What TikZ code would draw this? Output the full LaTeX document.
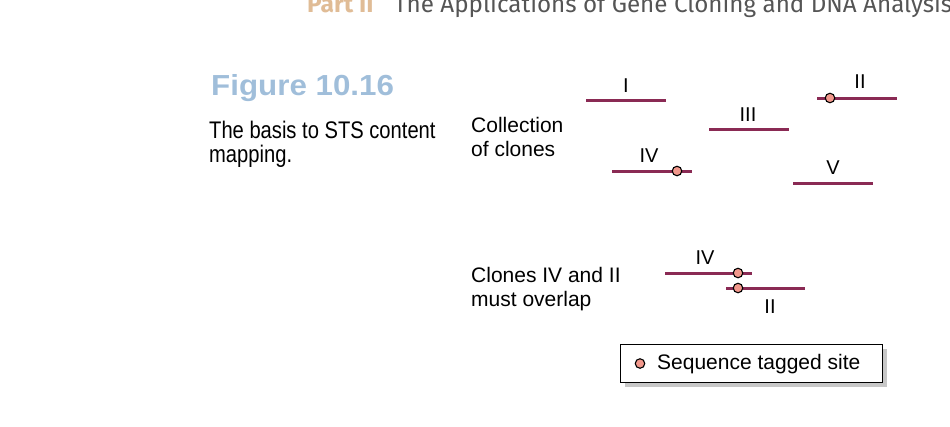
\documentclass[tikz,border=0pt]{standalone}
\usepackage{fontspec}
\usetikzlibrary{shadows}
\setmainfont{Liberation Sans}
\newfontfamily\headfont{Fira Sans}
\newfontfamily\figfont[FakeStretch=1.08]{Liberation Sans}
\newfontfamily\capfont[FakeStretch=0.84]{Liberation Sans}
\definecolor{clonecol}{RGB}{138,42,84}
\definecolor{stscol}{RGB}{242,152,140}
\definecolor{figblue}{RGB}{160,190,218}
\definecolor{parttan}{RGB}{224,188,150}
\definecolor{headgray}{RGB}{85,85,85}

\begin{document}
\begin{tikzpicture}[x=1pt, y=-1pt,
		clone/.style={line width=3pt, draw=clonecol},
		sts/.style={circle, draw=black, line width=1.1pt, fill=stscol, inner sep=0pt, minimum size=9.5pt},
		lbl/.style={font=\fontsize{20}{24}\selectfont, inner sep=0pt},
		txt/.style={font=\fontsize{21}{24}\selectfont, align=left, anchor=base west, inner sep=0pt}]
		\useasboundingbox (0,0) rectangle (950,426);
		\clip (0,0) rectangle (950,426);

		% running head and figure title
		\node[anchor=base west, inner sep=0pt, font=\headfont\bfseries\fontsize{24.5}{30}\selectfont, text=parttan] (headpart) at (307,12) {Part II};
		\node[anchor=base west, inner sep=0pt, font=\headfont\fontsize{24.2}{30}\selectfont, text=headgray] (headtitle) at (394,12) {The Applications of Gene Cloning and DNA Analysis};
		\node[anchor=base west, inner sep=0pt, font=\figfont\bfseries\fontsize{29}{34}\selectfont, text=figblue] (figtitle) at (211,95) {Figure 10.16};
		\node[txt, font=\capfont\fontsize{24}{24}\selectfont] (caption) at (209,162) {The basis to STS content\\mapping.};

		% collection of clones
		\node[txt] (colltext) at (471,156) {Collection\\of clones};
		\draw[clone] (586,100.5) coordinate (c1a) -- (666,100.5) coordinate (c1b);
		\node[lbl] (l1) at (626,86) {I};
		\draw[clone] (817,98) coordinate (c2a) -- (897,98) coordinate (c2b);
		\node[sts] (s2) at (830,98) {};
		\node[lbl] (l2) at (860,82) {II};
		\draw[clone] (709,129) coordinate (c3a) -- (789,129) coordinate (c3b);
		\node[lbl] (l3) at (748,114.5) {III};
		\draw[clone] (612,171) coordinate (c4a) -- (692,171) coordinate (c4b);
		\node[sts] (s4) at (677,171) {};
		\node[lbl] (l4) at (649,156) {IV};
		\draw[clone] (793,183) coordinate (c5a) -- (873,183) coordinate (c5b);
		\node[lbl] (l5) at (833,168) {V};

		% overlapping clones
		\node[txt] (overtext) at (471,306) {Clones IV and II\\must overlap};
		\draw[clone] (665,273) coordinate (o4a) -- (752,273) coordinate (o4b);
		\node[sts] (os4) at (738,273) {};
		\node[lbl] (ol4) at (705,258) {IV};
		\draw[clone] (726,288) coordinate (o2a) -- (805,288) coordinate (o2b);
		\node[sts] (os2) at (738,288) {};
		\node[lbl] (ol2) at (770,307) {II};

		% key
		\node[draw=black, line width=0.8pt, fill=white, anchor=north west, minimum width=262pt, minimum height=38pt,
			drop shadow={shadow xshift=5pt, shadow yshift=-5pt, fill=black!22, opacity=1}] (key) at (620,344) {};
		\node[sts] (keysts) at (640,363.5) {};
		\node[anchor=base west, inner sep=0pt, font=\fontsize{21}{24}\selectfont] (keytext) at (657,369.5) {Sequence tagged site};
	\end{tikzpicture}
\end{document}
